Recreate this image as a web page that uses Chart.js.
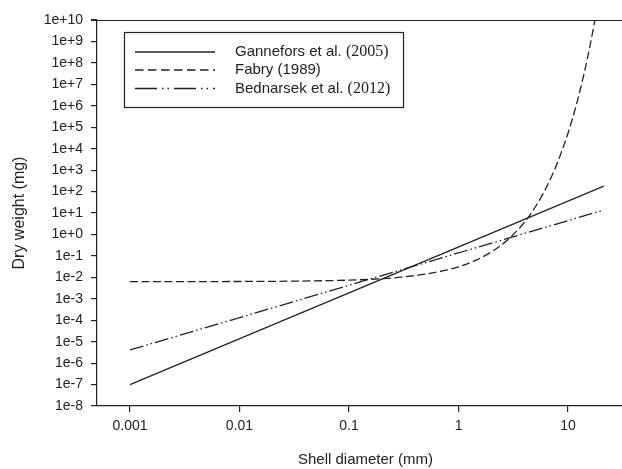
<!DOCTYPE html>
<html><head><meta charset="utf-8">
<script src="https://cdn.jsdelivr.net/npm/chart.js@4"></script>
<style>html,body{margin:0;padding:0;background:#fff;overflow:hidden;width:622px;height:469px}#wrap{width:634px;height:469px}</style>
</head><body><div id="wrap"><canvas id="c" width="634" height="469"></canvas></div>
<script>
const xTicks = [0.001, 0.01, 0.1, 1, 10];
const yTicks = [1e-8,1e-7,1e-6,1e-5,1e-4,1e-3,1e-2,1e-1,1e0,1e1,1e2,1e3,1e4,1e5,1e6,1e7,1e8,1e9,1e10];
const seriesNames = ["Gannefors et al. ", "Fabry (1989)", "Bednarsek et al. "];
const seriesYears = ["(2005)", "", "(2012)"];
const gannX = [0.001, 21.2];
const gannY = [1e-7, 180];
const fabryX = [0.001, 0.01, 0.1, 0.2, 0.3, 0.5, 0.75, 1, 1.5, 2, 2.5, 3, 4, 5, 6, 7, 8, 10, 12, 14, 16, 18];
const fabryY = [6.3e-3, 6.4e-3, 7.4e-3, 8.7e-3, 0.0102, 0.0142, 0.021, 0.031, 0.069, 0.154, 0.34, 0.76, 3.7, 18.5, 91, 450, 2200, 5.4e4, 1.3e6, 3.2e7, 7.8e8, 1.9e10];
const bedX = [0.001, 21.2];
const bedY = [4.1e-6, 13.8];

const dashes = [[], [8,3.5], [14,3,1.5,3,1.5,3]];
const legendDashes = [[], [8.5,4.5], [22,5,1.5,4,1.5,5]];
const ink = '#222';
function pts(xs, ys){ return xs.map((x,i)=>({x:x, y:ys[i]})); }

const legendPlugin = {
  id:'legendBox',
  afterDraw(chart){
    const ctx = chart.ctx, a = chart.chartArea;
    ctx.save();
    ctx.strokeStyle = ink; ctx.lineWidth = 1.2;
    ctx.beginPath(); ctx.moveTo(a.left-6, a.top+0.5); ctx.lineTo(a.right, a.top+0.5); ctx.stroke();
    ctx.lineWidth = 1.2;
    ctx.strokeRect(124.5, 32.5, 279, 75);
    const rows = [52, 70, 88.5];
    rows.forEach((y,i)=>{
      ctx.setLineDash(legendDashes[i]); ctx.lineWidth = 1.3;
      ctx.beginPath(); ctx.moveTo(135, y); ctx.lineTo(215, y); ctx.stroke();
      ctx.setLineDash([]);
      ctx.fillStyle = ink; ctx.textBaseline = 'middle'; ctx.textAlign = 'left';
      ctx.font = '15px "Liberation Sans", Arial, sans-serif';
      ctx.fillText(seriesNames[i], 235, y);
      const w = ctx.measureText(seriesNames[i]).width;
      if (seriesYears[i]) {
        ctx.font = '16px "Liberation Serif", "Times New Roman", serif';
        ctx.fillText(seriesYears[i], 235 + w, y);
      }
    });
    ctx.restore();
  }
};

const sansFont = {family:'"Liberation Sans", Arial, sans-serif', size:14};
new Chart(document.getElementById('c'), {
  type:'line',
  data:{ datasets:[
    {label:seriesNames[0]+seriesYears[0], data:pts(gannX,gannY), borderColor:ink, borderWidth:1.3, borderDash:dashes[0], pointRadius:0, fill:false},
    {label:seriesNames[1], data:pts(fabryX,fabryY), borderColor:ink, borderWidth:1.3, borderDash:dashes[1], pointRadius:0, fill:false, cubicInterpolationMode:'monotone'},
    {label:seriesNames[2]+seriesYears[2], data:pts(bedX,bedY), borderColor:ink, borderWidth:1.3, borderDash:dashes[2], pointRadius:0, fill:false}
  ]},
  options:{
    responsive:false, animation:false, devicePixelRatio:1,
    layout:{padding:{left:0,right:0,top:20,bottom:0}},
    plugins:{legend:{display:false}, tooltip:{enabled:false}},
    scales:{
      x:{type:'logarithmic', min:0.0005, max:40,
        afterBuildTicks(s){ s.ticks = xTicks.map(v=>({value:v})); },
        afterFit(s){ s.height = 63; },
        ticks:{color:ink, font:sansFont, padding:6, maxRotation:0, callback:(v)=>String(v)},
        grid:{display:true, drawOnChartArea:false, drawTicks:true, tickLength:6, color:ink, lineWidth:1.2},
        border:{display:true, color:ink, width:1.2},
        title:{display:true, text:'Shell diameter (mm)', color:ink, font:{family:sansFont.family, size:15}, padding:{top:14,bottom:0}}
      },
      y:{type:'logarithmic', min:1e-8, max:1e10,
        afterBuildTicks(s){ s.ticks = yTicks.map(v=>({value:v})); },
        afterFit(s){ s.width = 97; },
        ticks:{color:ink, font:sansFont, padding:8, callback:(v)=>{ const e=Math.round(Math.log10(v)); return '1e'+(e>=0?'+':'')+e; }},
        grid:{display:true, drawOnChartArea:false, drawTicks:true, tickLength:6, color:ink, lineWidth:1.2},
        border:{display:true, color:ink, width:1.2},
        title:{display:true, text:'Dry weight (mg)', color:ink, font:{family:sansFont.family, size:16}, padding:{top:10,bottom:0}}
      }
    }
  },
  plugins:[legendPlugin]
});
</script></body></html>
